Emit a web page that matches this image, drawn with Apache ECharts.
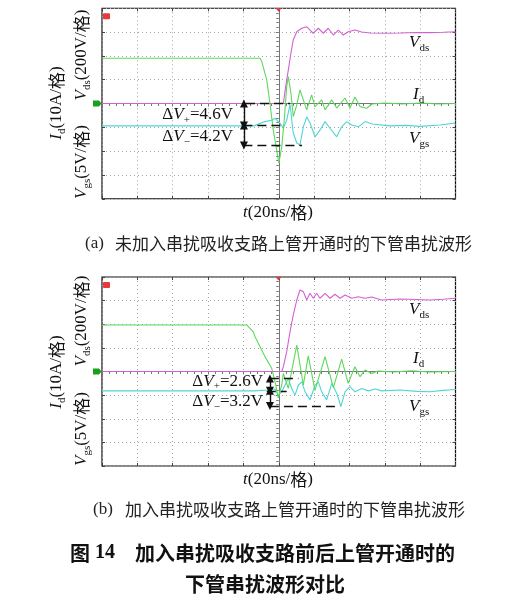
<!DOCTYPE html>
<html>
<head>
<meta charset="utf-8">
<script src="https://cdn.jsdelivr.net/npm/echarts@6/dist/echarts.min.js"></script>
<style>
  html, body { margin: 0; padding: 0; background: #fff; }
  #chart { width: 506px; height: 601px; }
</style>
</head>
<body>
<div id="chart"></div>
<script>
// time in ns (20 ns/div, trigger at 0); Vds 200 V/div, Id 10 A/div, Vgs 5 V/div
// (a) without crosstalk absorber branch
var vdsA = [[-100,0],[2.6,0],[3.9,141],[5.4,281],[6.9,424],[8.2,533],[10.2,603],[13.0,632],[15.8,645],[17.7,617],[19.5,590],[22.4,632],[25.2,590],[28.0,632],[30.9,575],[33.7,617],[36.5,575],[39.3,603],[43.1,617],[46.9,600],[51.6,592],[60,590],[68.6,592],[78,596],[85.6,595],[93,598],[100,603]];
var idA = [[-100,19],[-10.6,19],[-9.6,17.6],[-6.8,9.9],[-5.0,0.2],[-3.1,-11.1],[-1.2,-19.5],[0.1,-25],[1.7,-18.1],[3.1,-6.9],[4.5,7.1],[5.4,11.3],[6.9,4.4],[8.2,-5.5],[10.2,-0.6],[12.0,5.7],[13.9,1.5],[15.8,-2.7],[18.6,3.6],[20.5,-1.3],[24.3,1.5],[26.2,-2.7],[30.0,1.5],[32.8,-1.9],[37.5,2.3],[40.3,-1.9],[43.1,2.7],[46.0,-1.3],[49.8,-2.0],[52.8,-0.2],[60,0.2],[70,-0.2],[80,0.2],[90,-0.2],[100,0]];
var vgsA = [[-100,-4.7],[-14,-4.7],[-7.8,-3.8],[-4.0,-3.5],[-2.1,-3.1],[0.7,-4.1],[2.6,-5.2],[4.5,-3.5],[6.4,-0.2],[8.2,-6.2],[10.2,-8.3],[12.0,-8.7],[13.9,-4.9],[15.8,-2.8],[17.7,-4.1],[20.5,-7.0],[23.3,-5.6],[26.2,-3.8],[29.0,-5.2],[32.8,-7.0],[35.6,-4.9],[38.4,-3.8],[41.3,-4.5],[45.0,-4.9],[48.8,-3.8],[52.8,-4.3],[62.9,-4.7],[72,-4.6],[79.9,-4.8],[91.2,-4.5],[100,-4.1]];
// annotation levels (V) and time spans of the dashed guides
var levelsA = [0, -4.6, -8.8];
var guideSpansA = [[-18.5, 6.4], [-20, 2.4], [-20, 13.2]];
var arrowTimeA = -19.7;
var deltaTextA = ['4.6V', '4.2V'];

// (b) with crosstalk absorber branch
var vdsB = [[-100,0],[1.7,0],[2.6,41],[4.5,168],[6.4,337],[8.2,478],[10.2,605],[12.0,690],[13.9,676],[15.8,605],[17.7,662],[19.5,620],[21.5,662],[23.3,620],[26.2,662],[29.0,620],[31.8,654],[34.7,620],[37.5,648],[41.3,620],[45.0,633],[48.8,620],[52.6,630],[58.2,605],[68.6,614],[78,610],[85.6,605],[93,612],[100,620]];
var idB = [[-100,19.7],[-18.1,19.7],[-14.4,16.8],[-13.4,14.7],[-10.6,10.5],[-7.8,6.3],[-4.0,1.4],[-1.7,-5.7],[-0.3,-11.2],[1.7,-5.7],[2.6,-0.8],[5.4,-7.1],[10.2,11.2],[13.9,-5.7],[16.7,6.6],[20.5,-8.0],[26.2,6.3],[30.9,-6.8],[35.6,5.2],[39.3,-5.0],[43.1,2.0],[46.0,-2.2],[48.8,0.6],[52.6,-0.8],[56.3,0.2],[65,-0.2],[75,0.3],[85,-0.2],[100,0]];
var vgsB = [[-100,-4.1],[-14,-4.1],[-5.9,-3.9],[-2.1,-3.7],[-0.3,-5.0],[1.7,-4.3],[3.5,-2.9],[5.4,-1.5],[7.3,-3.6],[9.2,-5.0],[11.1,-2.9],[13.0,-2.2],[14.9,-4.3],[17.7,-6.0],[20.5,-2.9],[22.4,-2.2],[24.3,-4.3],[27.1,-6.0],[30.0,-2.5],[32.8,-4.6],[35.2,-7.4],[37.5,-4.3],[40.3,-3.2],[43.1,-4.3],[46.9,-3.6],[50.7,-4.1],[54.5,-3.7],[58.2,-4.1],[68.6,-3.9],[78,-4.2],[85.6,-4.3],[93,-4.0],[100,-3.8]];
var levelsB = [-1.5, -4.1, -7.3];
var guideSpansB = [[-5, 11.1], [-6.8, 4.5], [-5, 34.7]];
var arrowTimeB = -5;
var deltaTextB = ['2.6V', '3.2V'];

var SERIF = '"Liberation Serif", "DejaVu Serif", serif';
var CJK = '"Noto Sans CJK SC", sans-serif';
var colors = { vds: '#d262d2', id: '#5cd85c', vgs: '#4fd5d5' };

var panels = [
  { rect: { left: 102, top: 8.25, width: 353.5, height: 190.5 }, vds: vdsA, id: idA, vgs: vgsA,
    levels: levelsA, spans: guideSpansA, arrowT: arrowTimeA },
  { rect: { left: 102, top: 277, width: 353.5, height: 189 }, vds: vdsB, id: idB, vgs: vgsB,
    levels: levelsB, spans: guideSpansB, arrowT: arrowTimeB }
];

var grids = [], xAxes = [], yAxes = [], series = [];
var hide = { show: false };
var dotted = { show: true, lineStyle: { color: '#a5a5a5', type: [1, 3], width: 1 } };

panels.forEach(function (pn) {
  var g = grids.length;
  grids.push(Object.assign({ show: true, borderColor: '#111', borderWidth: 1.2 }, pn.rect));
  grids.push(Object.assign({ show: false }, pn.rect));

  var xMain = xAxes.length;
  xAxes.push({
    gridIndex: g, type: 'value', min: -100, max: 100, interval: 20,
    axisLine: { onZero: true, lineStyle: { color: '#777', width: 1 } },
    axisTick: { show: true, length: 3, lineStyle: { color: '#777' } },
    minorTick: { show: true, splitNumber: 5, length: 2.5, lineStyle: { color: '#777' } },
    axisLabel: hide, splitLine: dotted
  });
  ['bottom', 'top'].forEach(function (pos) {
    xAxes.push({
      gridIndex: g + 1, type: 'value', position: pos, min: -100, max: 100, interval: 20,
      axisLine: { show: false, onZero: false },
      axisTick: { show: true, inside: true, length: 3, lineStyle: { color: '#444' } },
      axisLabel: hide, splitLine: hide
    });
  });

  var yDiv = yAxes.length;
  yAxes.push({
    gridIndex: g, type: 'value', position: 'left', min: -4, max: 4, interval: 1,
    axisLine: { onZero: true, lineStyle: { color: '#777', width: 1 } },
    axisTick: { show: true, length: 3, lineStyle: { color: '#777' } },
    minorTick: { show: true, splitNumber: 5, length: 2.5, lineStyle: { color: '#777' } },
    axisLabel: hide, splitLine: dotted
  });
  yAxes.push({ gridIndex: g, type: 'value', show: false, min: -800, max: 800 }); // Vds
  yAxes.push({ gridIndex: g, type: 'value', show: false, min: -40, max: 40 });   // Id
  yAxes.push({ gridIndex: g, type: 'value', show: false, min: -20, max: 20 });   // Vgs
  ['left', 'right'].forEach(function (pos) {
    yAxes.push({
      gridIndex: g + 1, type: 'value', position: pos, min: -4, max: 4, interval: 1,
      axisLine: { show: false, onZero: false },
      axisTick: { show: true, inside: true, length: 3, lineStyle: { color: '#444' } },
      axisLabel: hide, splitLine: hide
    });
  });

  // dashed guides and double arrows for the Vgs overshoot
  var dash = { color: '#111', width: 1.4, type: [9, 5] };
  var solid = { color: '#111', width: 1.4, type: 'solid' };
  var ml = [];
  pn.levels.forEach(function (lv, k) {
    ml.push([
      { coord: [pn.spans[k][0], lv], symbol: 'none', lineStyle: dash },
      { coord: [pn.spans[k][1], lv], symbol: 'none', lineStyle: dash }
    ]);
  });
  for (var k = 0; k < 2; k++) {
    ml.push([
      { coord: [pn.arrowT, pn.levels[k]], symbol: 'triangle', lineStyle: solid },
      { coord: [pn.arrowT, pn.levels[k + 1]], symbol: 'triangle', lineStyle: solid }
    ]);
  }

  series.push({
    type: 'line', xAxisIndex: xMain, yAxisIndex: yDiv + 3, data: pn.vgs,
    showSymbol: false, symbol: 'none', lineStyle: { color: colors.vgs, width: 1.1 },
    markLine: { silent: true, symbolSize: [8, 8], label: hide, data: ml, animation: false,
      itemStyle: { color: '#111' } }
  });
  series.push({
    type: 'line', xAxisIndex: xMain, yAxisIndex: yDiv + 2, data: pn.id,
    showSymbol: false, symbol: 'none', lineStyle: { color: colors.id, width: 1.1 }
  });
  series.push({
    type: 'line', xAxisIndex: xMain, yAxisIndex: yDiv + 1, data: pn.vds,
    showSymbol: false, symbol: 'none', lineStyle: { color: colors.vds, width: 1.1 }
  });
});

function rich(fs) {
  return {
    i: { fontFamily: SERIF, fontStyle: 'italic', fontSize: fs },
    n: { fontFamily: SERIF, fontSize: fs },
    b: { fontFamily: SERIF, fontSize: fs, fontWeight: 'bold' },
    s: { fontFamily: SERIF, fontSize: Math.round(fs * 0.66), padding: [Math.round(fs * 0.6), 0, 0, 0] },
    c: { fontFamily: CJK, fontSize: fs },
    cb: { fontFamily: CJK, fontSize: fs, fontWeight: 'bold' }
  };
}
function txt(x, y, text, o) {
  o = o || {};
  return {
    type: 'text', x: x, y: y, rotation: o.rot || 0, z: 100,
    style: {
      text: text, rich: rich(o.fs || 17), fill: o.fill || '#111',
      textAlign: o.align || 'left', textVerticalAlign: 'middle',
      fontFamily: SERIF, fontSize: o.fs || 17
    }
  };
}

var graphics = [];
var labelPos = [
  { ds: 43, d: 95, gs: 139, top: 8.25, mid: 103.5, idY: 103, vdsY: 55, vgsY: 162, tY: 213,
    dvY: [115, 137], dvX: 233, cap: 244, capTag: '(a)', capX: 85, capTextX: 115,
    capText: '未加入串扰吸收支路上管开通时的下管串扰波形', deltas: deltaTextA },
  { ds: 310, d: 359, gs: 407, top: 277, mid: 371.5, idY: 372, vdsY: 321, vgsY: 429, tY: 480,
    dvY: [381.5, 402], dvX: 263, cap: 510, capTag: '(b)', capX: 93, capTextX: 125,
    capText: '加入串扰吸收支路上管开通时的下管串扰波形', deltas: deltaTextB }
];
labelPos.forEach(function (L) {
  graphics.push(txt(409, L.ds, '{i|V}{s|ds}'));
  graphics.push(txt(413, L.d, '{i|I}{s|d}'));
  graphics.push(txt(409, L.gs, '{i|V}{s|gs}'));
  graphics.push(txt(L.dvX, L.dvY[0], '{n|Δ}{i|V}{s|+}{n|=' + L.deltas[0] + '}', { align: 'right' }));
  graphics.push(txt(L.dvX, L.dvY[1], '{n|Δ}{i|V}{s|−}{n|=' + L.deltas[1] + '}', { align: 'right' }));
  graphics.push(txt(57, L.idY, '{i|I}{s|d}{n|(10A/}{c|格}{n|)}', { align: 'center', rot: Math.PI / 2 }));
  graphics.push(txt(82, L.vdsY, '{i|V}{s|ds}{n|(200V/}{c|格}{n|)}', { align: 'center', rot: Math.PI / 2 }));
  graphics.push(txt(82, L.vgsY, '{i|V}{s|gs}{n|(5V/}{c|格}{n|)}', { align: 'center', rot: Math.PI / 2 }));
  graphics.push(txt(278, L.tY, '{i|t}{n|(20ns/}{c|格}{n|)}', { align: 'center' }));
  graphics.push(txt(L.capX, L.cap, '{n|' + L.capTag + '}', { fill: '#222' }));
  graphics.push(txt(L.capTextX, L.cap, '{c|' + L.capText + '}', { fill: '#222' }));

  // scope channel / trigger markers
  graphics.push({ type: 'rect', z: 100, shape: { x: 103, y: L.top + 5, width: 7, height: 6, r: 1 },
    style: { fill: '#e83a3a' } });
  graphics.push({ type: 'polygon', z: 100,
    shape: { points: [[275.5, L.top], [281.5, L.top], [278.5, L.top + 3.5]] }, style: { fill: '#e83a3a' } });
  graphics.push({ type: 'polygon', z: 100,
    shape: { points: [[93, L.mid - 3], [99, L.mid - 3], [101.5, L.mid], [99, L.mid + 3], [93, L.mid + 3]] },
    style: { fill: '#1aa01a' } });
});
graphics.push(txt(70, 553, '{cb|图} {b|14}', { fs: 20 }));
graphics.push(txt(135, 553, '{cb|加入串扰吸收支路前后上管开通时的}', { fs: 20 }));
graphics.push(txt(265, 584, '{cb|下管串扰波形对比}', { fs: 20, align: 'center' }));

var chart = echarts.init(document.getElementById('chart'));
chart.setOption({
  animation: false,
  backgroundColor: '#fff',
  grid: grids,
  xAxis: xAxes,
  yAxis: yAxes,
  series: series,
  graphic: graphics
});
</script>
</body>
</html>
